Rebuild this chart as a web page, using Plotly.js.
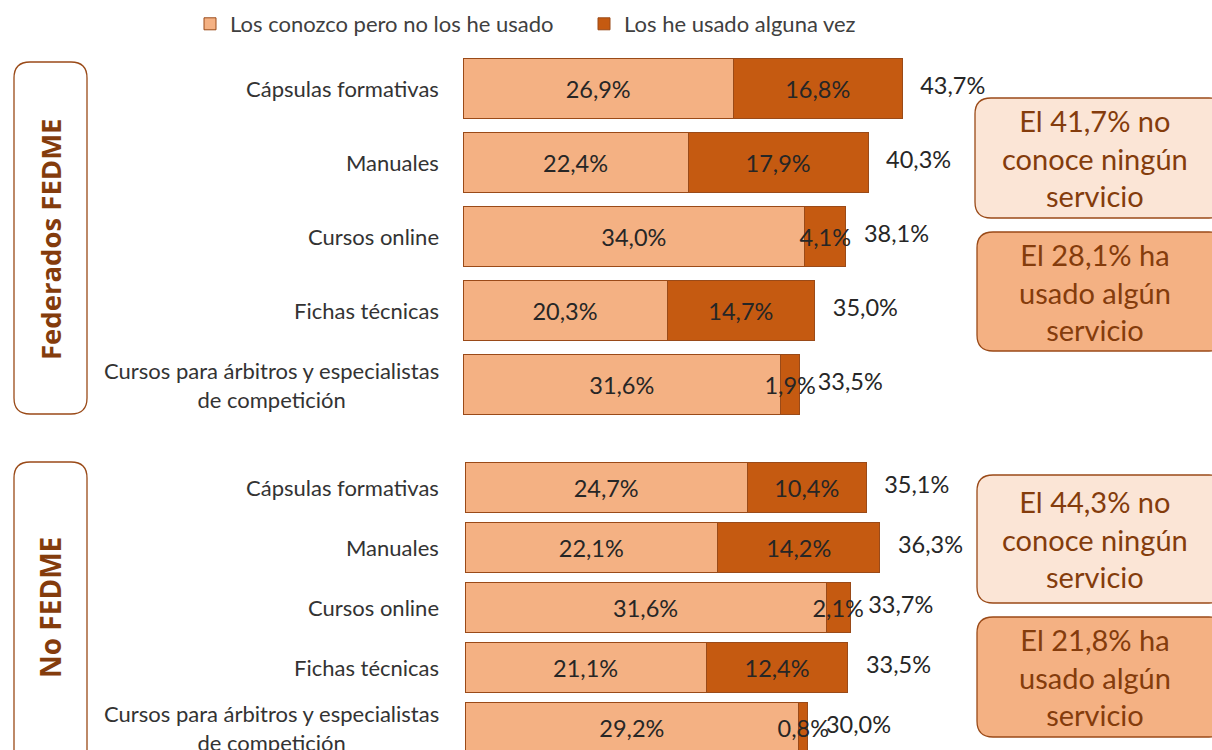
<!DOCTYPE html>
<html><head><meta charset="utf-8">
<script src="https://cdn.plot.ly/plotly-3.0.1.min.js"></script>
<style>html,body{margin:0;padding:0;background:#fff}</style>
</head><body>
<div id="chart" style="width:1212px;height:750px"></div>
<script>
// ---- data ----
const categories = ["Cápsulas formativas", "Manuales", "Cursos online", "Fichas técnicas", "Cursos para árbitros y especialistas<br>de competición"];
const seriesNames = ["Los conozco pero no los he usado", "Los he usado alguna vez"];
const fedConocen = [26.9, 22.4, 34.0, 20.3, 31.6];
const fedUsado   = [16.8, 17.9, 4.1, 14.7, 1.9];
const fedTotal   = [43.7, 40.3, 38.1, 35.0, 33.5];
const noConocen  = [24.7, 22.1, 31.6, 21.1, 29.2];
const noUsado    = [10.4, 14.2, 2.1, 12.4, 0.8];
const noTotal    = [35.1, 36.3, 33.7, 33.5, 30.0];
const groupNames = ["Federados FEDME", "No FEDME"];
const fedNotes = ["El 41,7% no<br>conoce ningún<br>servicio", "El 28,1% ha<br>usado algún<br>servicio"];
const noNotes  = ["El 44,3% no<br>conoce ningún<br>servicio", "El 21,8% ha<br>usado algún<br>servicio"];

// ---- style ----
const W = 1212, H = 750;
const LIGHT = '#F4B183', DARK = '#C55A11', EDGE = '#9a4a18', BROWN = '#843C0C';
const FONT = 'Lato, "Noto Sans", sans-serif';
const px = v => v / W, py = v => 1 - v / H;

function barTrace(x, ax, ay, idx, width, show) {
  return {
    type: 'bar', orientation: 'h', y: categories, x: x, xaxis: ax, yaxis: ay,
    name: seriesNames[idx], legendgroup: 's' + idx, showlegend: show,
    width: width,
    marker: {color: idx === 0 ? LIGHT : DARK, line: {color: EDGE, width: 1}},
    texttemplate: '%{x:.1f}%', textposition: 'inside', insidetextanchor: 'middle',
    textangle: 0, constraintext: 'none',
    textfont: {family: FONT, size: 23.5, color: '#262626'},
    hoverinfo: 'skip'
  };
}
function totalTrace(x, ax, ay) {
  return {
    type: 'scatter', mode: 'text', y: categories, x: x, xaxis: ax, yaxis: ay,
    texttemplate: '\u00a0\u00a0\u00a0%{x:.1f}%', textposition: 'middle right', cliponaxis: false,
    textfont: {family: FONT, size: 23.5, color: '#262626'},
    showlegend: false, hoverinfo: 'skip'
  };
}

const data = [
  barTrace(fedConocen, 'x', 'y', 0, 0.8, true),
  barTrace(fedUsado, 'x', 'y', 1, 0.8, true),
  totalTrace(fedTotal, 'x', 'y'),
  barTrace(noConocen, 'x2', 'y2', 0, 0.82, false),
  barTrace(noUsado, 'x2', 'y2', 1, 0.82, false),
  totalTrace(noTotal, 'x2', 'y2')
];

function rr(x0, y0, x1, y1, r) {
  const P = (x, y) => px(x) + ',' + py(y);
  return 'M' + P(x0 + r, y0) + ' L' + P(x1 - r, y0) + ' Q' + P(x1, y0) + ' ' + P(x1, y0 + r) +
    ' L' + P(x1, y1 - r) + ' Q' + P(x1, y1) + ' ' + P(x1 - r, y1) +
    ' L' + P(x0 + r, y1) + ' Q' + P(x0, y1) + ' ' + P(x0, y1 - r) +
    ' L' + P(x0, y0 + r) + ' Q' + P(x0, y0) + ' ' + P(x0 + r, y0) + ' Z';
}
function box(x0, y0, x1, y1, fill) {
  return {type: 'path', xref: 'paper', yref: 'paper', path: rr(x0, y0, x1, y1, 16),
    fillcolor: fill, line: {color: EDGE, width: 1.3}, layer: 'below'};
}

const shapes = [
  box(14, 62, 87, 414, '#ffffff'),
  box(14, 462, 87, 770, '#ffffff'),
  box(975, 98, 1225, 218, '#FBE5D6'),
  box(977, 232, 1225, 351, LIGHT),
  box(977, 475, 1225, 603, '#FBE5D6'),
  box(977, 617, 1225, 737, LIGHT)
];

const annotations = [];
categories.forEach(c => {
  ['y', 'y2'].forEach(ay => annotations.push({xref: 'paper', yref: ay, x: px(441), y: c, text: c, showarrow: false,
    xanchor: 'right', yanchor: 'middle', align: 'center', font: {family: FONT, size: 22, color: '#333333'}}));
});
annotations.push({xref: 'paper', yref: 'paper', x: px(50), y: py(239), text: '<b>' + groupNames[0] + '</b>',
  xanchor: 'center', yanchor: 'middle',
  textangle: -90, showarrow: false, font: {family: '"Open Sans", sans-serif', size: 27.5, color: BROWN}});
annotations.push({xref: 'paper', yref: 'paper', x: px(50), y: py(608), text: '<b>' + groupNames[1] + '</b>',
  xanchor: 'center', yanchor: 'middle',
  textangle: -90, showarrow: false, font: {family: '"Open Sans", sans-serif', size: 28, color: BROWN}});
const notePos = [[1095, 158, fedNotes[0]], [1095, 292, fedNotes[1]], [1095, 539, noNotes[0]], [1095, 677, noNotes[1]]];
notePos.forEach(p => annotations.push({xref: 'paper', yref: 'paper', x: px(p[0]), y: py(p[1]), text: p[2],
  xanchor: 'center', yanchor: 'middle',
  showarrow: false, align: 'center', font: {family: FONT, size: 29, color: BROWN}}));

const hiddenX = {visible: false, showgrid: false, zeroline: false, fixedrange: true};
const layout = {
  width: W, height: H, margin: {l: 0, r: 0, t: 0, b: 0},
  paper_bgcolor: '#ffffff', plot_bgcolor: 'rgba(0,0,0,0)',
  barmode: 'stack', separators: ',.', showlegend: true,
  font: {family: FONT, color: '#333333'},
  xaxis: Object.assign({domain: [px(463), px(963)], range: [0, 500 / 10.05], anchor: 'y'}, hiddenX),
  yaxis: {domain: [py(421.5), py(51.5)], range: [4.5, -0.5], type: 'category', visible: false, anchor: 'x', fixedrange: true},
  xaxis2: Object.assign({domain: [px(465), px(965)], range: [0, 500 / 11.43], anchor: 'y2'}, hiddenX),
  yaxis2: {domain: [0, py(457.5)], range: [4.375, -0.5], type: 'category', visible: false, anchor: 'x2', fixedrange: true},
  legend: {orientation: 'h', x: px(190), xanchor: 'left', y: py(24), yanchor: 'middle',
    font: {family: FONT, size: 22, color: '#404040'}, bgcolor: 'rgba(0,0,0,0)', traceorder: 'normal', entrywidth: 349},
  shapes: shapes, annotations: annotations
};

Plotly.newPlot('chart', data, layout, {displayModeBar: false, staticPlot: true});
</script>
</body></html>
